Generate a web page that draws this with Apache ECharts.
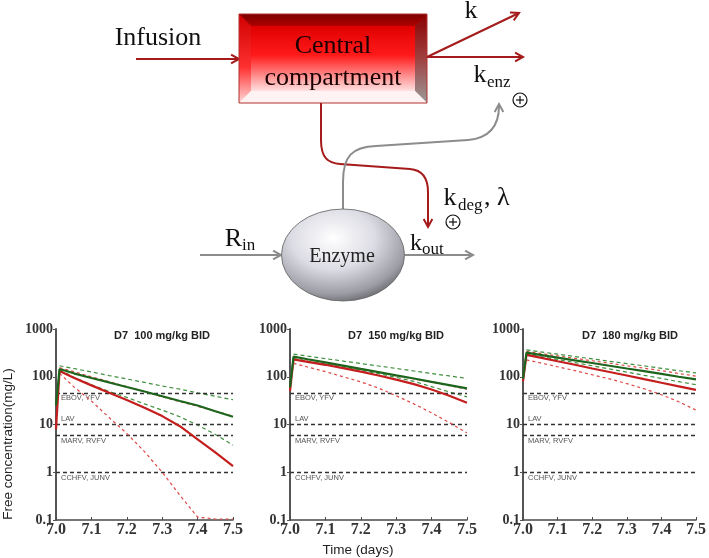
<!DOCTYPE html>
<html><head><meta charset="utf-8">
<script src="https://cdn.jsdelivr.net/npm/echarts@6/dist/echarts.min.js"></script>
<style>html,body{margin:0;padding:0;background:#fff}#c{width:709px;height:558px}</style>
</head><body><div id="c"></div>
<script>
// ---------- data ----------
const times = [7.0, 7.01, 7.05, 7.1, 7.15, 7.2, 7.25, 7.3, 7.35, 7.4, 7.45, 7.5];
const xTickLabels = ['7.0', '7.1', '7.2', '7.3', '7.4', '7.5'];
const yTickLabels = ['0.1', '1', '10', '100', '1000'];
const panelTitles = ['D7  100 mg/kg BID', 'D7  150 mg/kg BID', 'D7  180 mg/kg BID'];
const thresholdValues = [46, 10, 6, 1];
const thresholdLabels = ['EBOV, YFV', 'LAV', 'MARV, RVFV', 'CCHFV, JUNV'];

// 100 mg/kg
const p1GreenSolid = [25, 145, 118, 94, 76, 61, 49, 39, 31, 25, 19, 14.5];
const p1RedSolid = [8, 132, 95, 66, 46, 32.5, 22.5, 15, 9.2, 4.9, 2.6, 1.35];
const p1GreenDashUp = [null, 170, 149, 126, 106, 90, 76, 64, 55, 46, 39, 33];
const p1GreenDashLow = [null, 140, 98, 68, 49, 37, 27, 20, 14.5, 9.7, 6.2, 3.7];
const p1RedDashUp = [null, 155, 128, 100, 79, 62, 49, 38, 30, 24, 19, 15];
const p1RedDashLow = [null, 118, 62, 31, 14, 6.5, 2.7, 1.0, 0.33, 0.115, 0.105, 0.105];
// 150 mg/kg
const p2GreenSolid = [60, 264, 233, 200, 171, 146, 125, 107, 92, 78, 67, 57];
const p2RedSolid = [50, 232, 205, 178, 152, 128, 106, 87, 70, 54, 40, 28.5];
const p2GreenDashUp = [null, 298, 270, 240, 213, 189, 168, 149, 132, 117, 104, 92];
const p2GreenDashLow = [null, 240, 213, 186, 160, 137, 116, 97, 80, 62, 48, 38];
const p2RedDashUp = [null, 255, 226, 195, 168, 144, 123, 105, 90, 77, 65, 55];
const p2RedDashLow = [null, 190, 160, 128, 100, 78, 58, 40, 27, 17.5, 11, 6.7];
// 180 mg/kg
const p3GreenSolid = [90, 320, 288, 252, 221, 194, 170, 149, 131, 115, 100, 88];
const p3RedSolid = [80, 288, 251, 211, 178, 149, 126, 106, 89, 75, 63, 53];
const p3GreenDashUp = [null, 365, 333, 297, 265, 237, 211, 189, 169, 150, 134, 120];
const p3GreenDashLow = [null, 300, 265, 230, 198, 170, 146, 125, 107, 92, 79, 68];
const p3RedDashUp = [null, 340, 308, 274, 243, 216, 192, 170, 151, 134, 117, 103];
const p3RedDashLow = [null, 225, 195, 162, 134, 110, 90, 72, 56, 42, 30, 20];

// ---------- build ----------
const panels = [
  [p1GreenDashUp, p1GreenDashLow, p1RedDashUp, p1RedDashLow, p1RedSolid, p1GreenSolid],
  [p2GreenDashUp, p2GreenDashLow, p2RedDashUp, p2RedDashLow, p2RedSolid, p2GreenSolid],
  [p3GreenDashUp, p3GreenDashLow, p3RedDashUp, p3RedDashLow, p3RedSolid, p3GreenSolid]
];
const styles = [
  {color: '#3f8f3f', width: 1.2, type: [4, 3]},
  {color: '#3f8f3f', width: 1.2, type: [4, 3]},
  {color: '#e04848', width: 1.2, type: [3, 3]},
  {color: '#e04848', width: 1.2, type: [3, 3]},
  {color: '#c41e1e', width: 2.2, type: 'solid'},
  {color: '#1d651d', width: 2.2, type: 'solid'}
];
const gridLefts = [56, 290, 523];
const gridWidths = [177, 177, 179];
const titleLefts = [114, 348, 582];
const SERIF = '"Liberation Serif", "Times New Roman", serif';
const SANS = '"Liberation Sans", Arial, sans-serif';

function pts(arr) {
  return times.map((t, i) => arr[i] == null ? null : [t, arr[i]]).filter(p => p);
}

const grids = [], xAxes = [], yAxes = [], series = [], titles = [];
panels.forEach((list, g) => {
  grids.push({left: gridLefts[g], top: 329, width: gridWidths[g], height: 191});
  titles.push({text: panelTitles[g], left: titleLefts[g], top: 330, padding: 0,
    textStyle: {fontFamily: SANS, fontSize: 11, fontWeight: 'bold', color: '#222'}});
  xAxes.push({type: 'value', gridIndex: g, min: 7.0, max: 7.5, interval: 0.1,
    axisLine: {show: true, lineStyle: {color: '#4a4a4a', width: 1.5}},
    axisTick: {show: true, inside: true, length: 3, lineStyle: {color: '#4a4a4a'}},
    splitLine: {show: false},
    axisLabel: {margin: 2, fontFamily: SERIF, fontWeight: 'bold', fontSize: 16, color: '#333',
      formatter: v => xTickLabels[Math.round((v - 7) * 10)]}});
  yAxes.push({type: 'log', logBase: 10, gridIndex: g, min: 0.1, max: 1000,
    axisLine: {show: true, lineStyle: {color: '#555', width: 2}},
    axisTick: {show: true, length: 3, lineStyle: {color: '#555'}},
    splitLine: {show: false}, minorTick: {show: false},
    axisLabel: {margin: 3, fontFamily: SERIF, fontWeight: 'bold', fontSize: 14, color: '#333',
      formatter: v => yTickLabels[Math.round(Math.log10(v)) + 1]}});
  // thresholds
  series.push({type: 'line', xAxisIndex: g, yAxisIndex: g, data: [[7.0, 46]], showSymbol: false,
    lineStyle: {width: 0}, silent: true,
    markLine: {silent: true, symbol: ['none', 'none'],
      lineStyle: {type: [4, 3], color: '#333', width: 1.4},
      label: {show: true, fontFamily: SANS, fontSize: 7.5, color: '#555', distance: [5, 1.5],
        formatter: p => p.name},
      data: thresholdValues.map((v, i) => ({yAxis: v, name: thresholdLabels[i],
        label: {position: i === 1 ? 'insideStartTop' : 'insideStartBottom'}}))}});
  list.forEach((arr, k) => {
    series.push({type: 'line', xAxisIndex: g, yAxisIndex: g, data: pts(arr),
      showSymbol: false, symbol: 'none', silent: true, z: 3 + k,
      lineStyle: {color: styles[k].color, width: styles[k].width, type: styles[k].type}});
  });
});

// ---------- diagram ----------
const DR = '#a51a1a', GR = '#8c8c8c';
function arrowHead(x, y, ang, color) {
  const len = 9, sp = 0.5;
  const a1 = ang + Math.PI - sp, a2 = ang + Math.PI + sp;
  return {type: 'polyline', shape: {points: [[x + len * Math.cos(a1), y + len * Math.sin(a1)], [x, y],
    [x + len * Math.cos(a2), y + len * Math.sin(a2)]]}, style: {stroke: color, lineWidth: 2, fill: null}};
}
function line(x1, y1, x2, y2, color) {
  return {type: 'line', shape: {x1, y1, x2, y2}, style: {stroke: color, lineWidth: 2}};
}
function bez(x1, y1, cpx1, cpy1, cpx2, cpy2, x2, y2, color) {
  return {type: 'bezierCurve', shape: {x1, y1, cpx1, cpy1, cpx2, cpy2, x2, y2},
    style: {stroke: color, lineWidth: 2, fill: null}};
}
function txt(text, x, y, size, align, family, color) {
  return {type: 'text', x, y, style: {text, fontSize: size, fontFamily: family || SERIF,
    fill: color || '#111', align: align || 'center', verticalAlign: 'middle'}};
}
function circlePlus(cx, cy) {
  return [
    {type: 'circle', shape: {cx, cy, r: 7}, style: {stroke: '#111', lineWidth: 1.2, fill: '#fff'}},
    {type: 'line', shape: {x1: cx - 4, y1: cy, x2: cx + 4, y2: cy}, style: {stroke: '#111', lineWidth: 1.2}},
    {type: 'line', shape: {x1: cx, y1: cy - 4, x2: cx, y2: cy + 4}, style: {stroke: '#111', lineWidth: 1.2}}
  ];
}
const vgrad = stops => ({type: 'linear', x: 0, y: 0, x2: 0, y2: 1,
  colorStops: stops.map(s => ({offset: s[0], color: s[1]}))});

const bx0 = 239, by0 = 14, bx1 = 427, by1 = 103, bv = 12;
const graphics = [
  // Infusion
  txt('Infusion', 158, 38, 26),
  line(136, 59, 238, 59, DR), arrowHead(239, 59, 0, DR),
  // box
  {type: 'rect', shape: {x: bx0, y: by0, width: bx1 - bx0, height: by1 - by0},
    style: {fill: vgrad([[0, '#c80000'], [0.5, '#ff1c1c'], [0.85, '#ffc8c8'], [1, '#fff4f4']])}},
  {type: 'polygon', shape: {points: [[bx0, by0], [bx1, by0], [bx1 - bv, by0 + bv], [bx0 + bv, by0 + bv]]},
    style: {fill: vgrad([[0, '#7a0000'], [1, '#b00000']])}},
  {type: 'polygon', shape: {points: [[bx0, by0], [bx0 + bv, by0 + bv], [bx0 + bv, by1 - bv], [bx0, by1]]},
    style: {fill: vgrad([[0, '#d00000'], [0.6, '#ff3030'], [1, '#ffdada']])}},
  {type: 'polygon', shape: {points: [[bx1, by0], [bx1, by1], [bx1 - bv, by1 - bv], [bx1 - bv, by0 + bv]]},
    style: {fill: vgrad([[0, '#8a0000'], [0.5, '#a04040'], [1, '#9a9a9a']])}},
  {type: 'polygon', shape: {points: [[bx0, by1], [bx1, by1], [bx1 - bv, by1 - bv], [bx0 + bv, by1 - bv]]},
    style: {fill: '#fff2f2'}},
  {type: 'rect', shape: {x: bx0 + bv, y: by0 + bv, width: bx1 - bx0 - 2 * bv, height: by1 - by0 - 2 * bv},
    style: {fill: vgrad([[0, '#e00000'], [0.45, '#ff1a1a'], [0.8, '#ff9a9a'], [1, '#ffe0e0']])}},
  {type: 'rect', shape: {x: bx0, y: by0, width: bx1 - bx0, height: by1 - by0},
    style: {fill: null, stroke: '#b03030', lineWidth: 1}},
  txt('Central', 333, 46, 26, 'center', SERIF, '#1a0000'),
  txt('compartment', 333, 78, 26, 'center', SERIF, '#1a0000'),
  // k arrows
  line(427, 57, 519, 13, DR), arrowHead(519, 13, Math.atan2(-44, 92), DR),
  line(427, 57, 522, 57, DR), arrowHead(523, 57, 0, DR),
  txt('k', 471, 11.5, 26),
  txt('k', 480, 75.5, 26), txt('enz', 487, 83, 17, 'left'),
  ...circlePlus(520, 100),
  // red path to k_deg
  line(321, 103, 321, 140, DR),
  bez(321, 140, 321, 158, 328, 163, 340, 164, DR),
  line(340, 164, 410, 169, DR),
  bez(410, 169, 422, 170, 428, 178, 428, 192, DR),
  line(428, 192, 428, 225, DR),
  arrowHead(428, 227, Math.PI / 2, DR),
  // gray path to k_enz
  line(343, 209, 343, 182, GR),
  bez(343, 182, 343, 156, 352, 147, 376, 146, GR),
  line(376, 146, 468, 140, GR),
  bez(468, 140, 490, 138, 499, 126, 499, 106, GR),
  arrowHead(499, 104, -Math.PI / 2, GR),
  txt('k', 450, 198.5, 26), txt('deg', 458, 206, 17, 'left'), txt(', λ', 484, 198.5, 26, 'left'),
  ...circlePlus(453, 222),
  // enzyme
  line(200, 255, 280, 255, GR), arrowHead(281, 255, 0, GR),
  txt('R', 233.5, 239.5, 26), txt('in', 242, 246, 17, 'left'),
  {type: 'circle', x: 343, y: 255, scaleY: 46 / 61.5, shape: {cx: 0, cy: 0, r: 61.5},
    style: {fill: {type: 'radial', x: 0.42, y: 0.32, r: 0.75, colorStops: [
      {offset: 0, color: '#ffffff'}, {offset: 0.45, color: '#dcdce4'}, {offset: 0.8, color: '#9c9ca4'}, {offset: 1, color: '#56565c'}]},
      stroke: '#6a6a6a', lineWidth: 1}},
  txt('Enzyme', 342, 257, 20, 'center', SERIF, '#222'),
  line(405, 255, 472, 255, GR), arrowHead(473, 255, 0, GR),
  txt('k', 416, 244, 24), txt('out', 422, 250, 17, 'left'),
  // axis titles
  {type: 'text', x: 8, y: 444, rotation: Math.PI / 2, style: {text: 'Free concentration(mg/L)', fontSize: 13.5,
    fontFamily: SANS, fill: '#222', align: 'center', verticalAlign: 'middle'}},
  txt('Time (days)', 358, 550, 13.5, 'center', SANS, '#222')
];

const chart = echarts.init(document.getElementById('c'), null, {renderer: 'canvas'});
chart.setOption({
  animation: false,
  backgroundColor: '#fff',
  title: titles,
  grid: grids,
  xAxis: xAxes,
  yAxis: yAxes,
  series: series,
  graphic: {elements: graphics}
});
</script></body></html>
